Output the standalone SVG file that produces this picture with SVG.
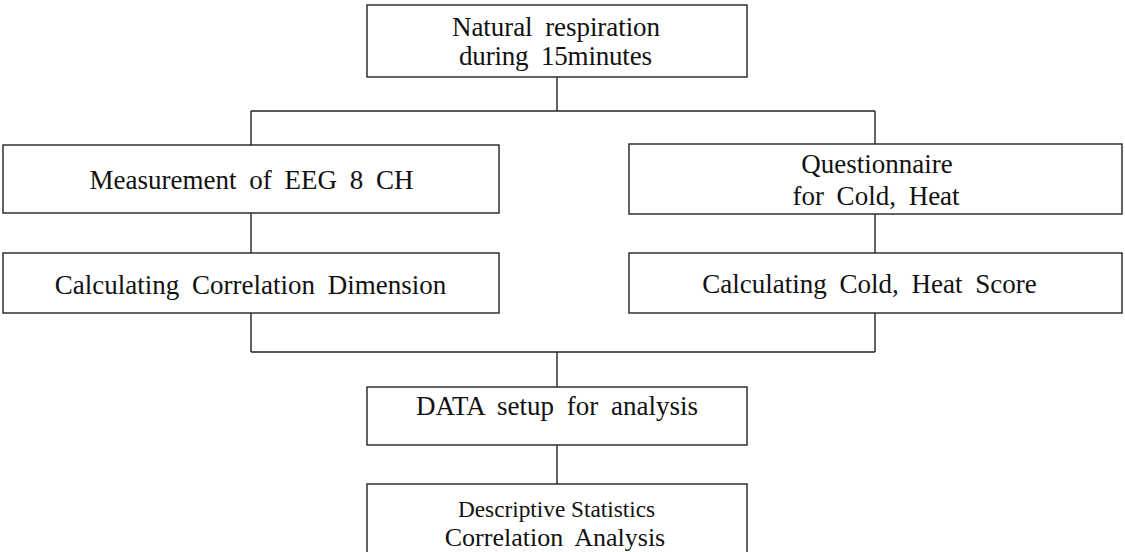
<svg xmlns="http://www.w3.org/2000/svg" width="1125" height="552" viewBox="0 0 1125 552">
<style>
.box{fill:#fff;stroke:#222;stroke-width:1.4}
.t{font-family:"Liberation Serif","Times New Roman",serif;font-size:27px;fill:#111;text-anchor:middle;word-spacing:6px}
.c{stroke:#222;stroke-width:1.4;fill:none}
</style>
<rect width="1125" height="552" fill="#fff"/>
<g id="connectors">
<line class="c" x1="557" y1="77" x2="557" y2="111"/>
<line class="c" x1="251" y1="111" x2="875" y2="111"/>
<line class="c" x1="251" y1="111" x2="251" y2="145"/>
<line class="c" x1="875" y1="111" x2="875" y2="144"/>
<line class="c" x1="251" y1="213" x2="251" y2="253"/>
<line class="c" x1="875" y1="214" x2="875" y2="253"/>
<line class="c" x1="251" y1="313" x2="251" y2="352"/>
<line class="c" x1="875" y1="313" x2="875" y2="352"/>
<line class="c" x1="251" y1="352" x2="875" y2="352"/>
<line class="c" x1="557" y1="352" x2="557" y2="387"/>
<line class="c" x1="557" y1="445" x2="557" y2="484"/>
</g>
<g id="n_natural">
<rect class="box" x="367" y="5" width="380" height="72"/>
<text class="t" x="556" y="36" textLength="208" lengthAdjust="spacing">Natural respiration</text>
<text class="t" x="555.5" y="65" textLength="193" lengthAdjust="spacing">during 15minutes</text>
</g>
<g id="n_eeg">
<rect class="box" x="3" y="145" width="496" height="68"/>
<text class="t" x="251.5" y="189">Measurement of EEG 8 CH</text>
</g>
<g id="n_corrdim">
<rect class="box" x="3" y="253" width="496" height="60"/>
<text class="t" x="250.5" y="294">Calculating Correlation Dimension</text>
</g>
<g id="n_quest">
<rect class="box" x="629" y="144" width="493" height="70"/>
<text class="t" x="877" y="173">Questionnaire</text>
<text class="t" x="876" y="205">for Cold, Heat</text>
</g>
<g id="n_score">
<rect class="box" x="629" y="253" width="493" height="60"/>
<text class="t" x="869.5" y="293">Calculating Cold, Heat Score</text>
</g>
<g id="n_data">
<rect class="box" x="367" y="387" width="380" height="58"/>
<text class="t" x="557" y="415">DATA setup for analysis</text>
</g>
<g id="n_stats">
<rect class="box" x="367" y="484" width="380" height="80"/>
<text class="t" x="556.5" y="517" textLength="197" lengthAdjust="spacingAndGlyphs" style="word-spacing:0;font-size:24px">Descriptive Statistics</text>
<text class="t" x="555" y="546" style="font-size:26px">Correlation Analysis</text>
</g>
</svg>
